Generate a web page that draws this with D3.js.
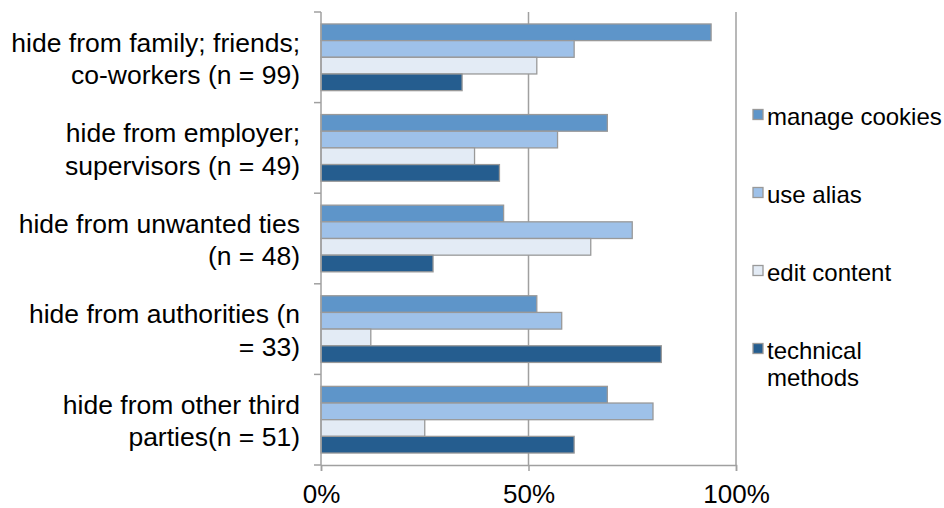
<!DOCTYPE html>
<html><head><meta charset="utf-8">
<script src="https://cdn.jsdelivr.net/npm/d3@7"></script>
<style>body{margin:0;background:#fff}svg{display:block}text{font-family:"Liberation Sans",Arial,Helvetica,sans-serif;fill:#000}</style>
</head><body><svg id="c" width="944" height="508"></svg>
<script>
const categories = [
  ["hide from family; friends;", "co-workers (n = 99)"],
  ["hide from employer;", "supervisors (n = 49)"],
  ["hide from unwanted ties", "(n = 48)"],
  ["hide from authorities (n", "= 33)"],
  ["hide from other third", "parties(n = 51)"]
];
const seriesNames = ["manage cookies", "use alias", "edit content", "technical methods"];
const legendLines = [["manage cookies"], ["use alias"], ["edit content"], ["technical", "methods"]];
const manageCookies = [94, 69, 44, 52, 69];
const useAlias = [61, 57, 75, 58, 80];
const editContent = [52, 37, 65, 12, 25];
const technicalMethods = [34, 43, 27, 82, 61];
const xTicks = [0, 50, 100];
const colors = ["#5e95c9", "#9ec1e9", "#e3ebf5", "#255d8f"];

const series = [manageCookies, useAlias, editContent, technicalMethods];
const svg = d3.select("#c");
const L = 321, R = 736, T = 12, B = 465;
const x = d3.scaleLinear().domain([0, 100]).range([L, R]);
const y = d3.scaleBand().domain(d3.range(categories.length)).range([T, B]).paddingInner(0.264).paddingOuter(0.132);
const yi = d3.scaleBand().domain(d3.range(series.length)).range([0, y.bandwidth()]);
const grey = "#a0a0a0";

// gridlines
svg.append("g").selectAll("line").data(xTicks.filter(d => d > 0)).join("line")
  .attr("x1", d => x(d)).attr("x2", d => x(d)).attr("y1", T).attr("y2", B)
  .attr("stroke", grey).attr("stroke-width", 1.5);

// bars
const groups = svg.append("g").selectAll("g").data(categories).join("g")
  .attr("transform", (d, i) => `translate(0,${y(i)})`);
groups.selectAll("rect").data((d, i) => series.map((s, j) => ({v: s[i], j}))).join("rect")
  .attr("x", x(0)).attr("y", d => yi(d.j)).attr("width", d => x(d.v) - x(0)).attr("height", yi.bandwidth())
  .attr("fill", d => colors[d.j]).attr("stroke", "#999").attr("stroke-width", 1.3);

// x axis
const xAxis = svg.append("g").attr("transform", `translate(0,${B})`)
  .call(d3.axisBottom(x).tickValues(xTicks).tickFormat(d => d + "%").tickSize(6).tickPadding(14));
xAxis.select(".domain").attr("stroke", grey).attr("stroke-width", 1.5);
xAxis.selectAll(".tick line").attr("stroke", grey).attr("stroke-width", 1.5);
xAxis.selectAll("text").style("font-size", "26px").attr("font-family", null);

// y axis line and ticks at band boundaries
const bounds = d3.range(categories.length + 1).map(i => T + i * y.step());
svg.append("line").attr("x1", L).attr("x2", L).attr("y1", T).attr("y2", B).attr("stroke", grey).attr("stroke-width", 1.5);
svg.append("g").selectAll("line").data(bounds).join("line")
  .attr("x1", L - 7).attr("x2", L).attr("y1", d => d).attr("y2", d => d)
  .attr("stroke", grey).attr("stroke-width", 1.5);

// category labels
const lab = svg.append("g").selectAll("text").data(categories).join("text")
  .attr("text-anchor", "end").style("font-size", "26.5px")
  .attr("transform", (d, i) => `translate(300,${y(i) + y.bandwidth() / 2 + 10.5})`);
lab.selectAll("tspan").data(d => d).join("tspan")
  .attr("x", 0).attr("y", (d, k, arr) => (k - (arr.length - 1) / 2) * 32.3).text(d => d);

// legend
const lg = svg.append("g").selectAll("g").data(seriesNames).join("g")
  .attr("transform", (d, i) => `translate(753,${109.5 + i * 78})`);
lg.append("rect").attr("width", 10).attr("height", 10)
  .attr("fill", (d, i) => colors[i]).attr("stroke", "#999").attr("stroke-width", 1.3);
lg.append("text").attr("x", 14).attr("y", 15.5).style("font-size", "24px")
  .selectAll("tspan").data((d, i) => legendLines[i]).join("tspan")
  .attr("x", 14).attr("dy", (d, k) => k === 0 ? 0 : 26.7).text(d => d);
</script></body></html>
